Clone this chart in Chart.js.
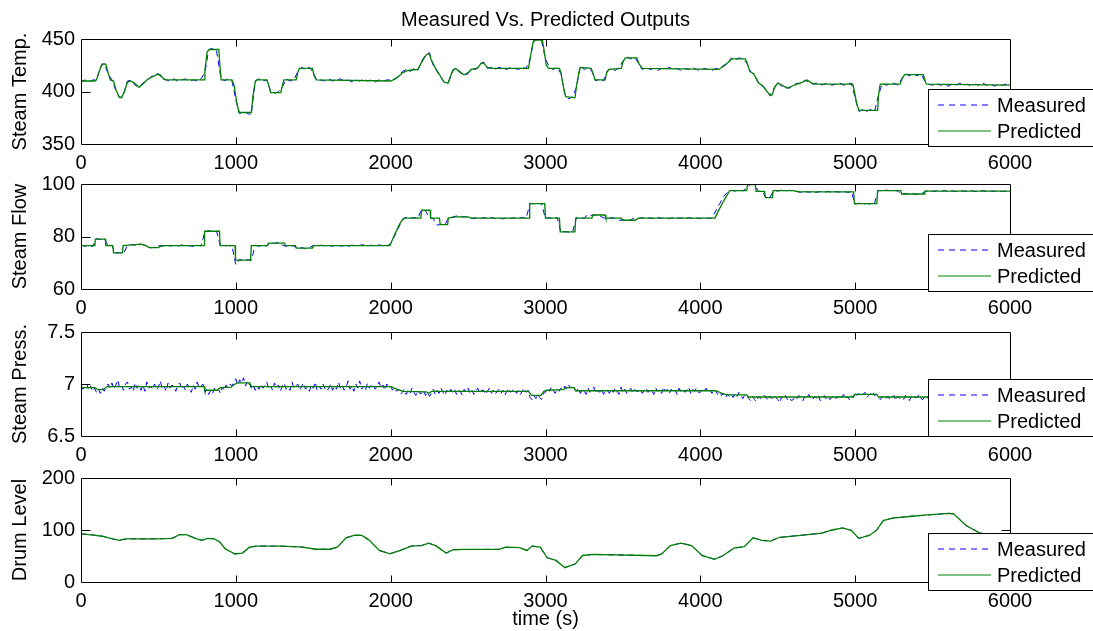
<!DOCTYPE html>
<html>
<head>
<meta charset="utf-8">
<script src="https://cdn.jsdelivr.net/npm/chart.js@4.4.1/dist/chart.umd.min.js"></script>
<style>
html,body{margin:0;padding:0;background:#fff;width:1093px;height:631px;overflow:hidden;}
canvas{position:absolute;left:0;}
</style>
</head>
<body>
<canvas id="c1" width="1093" height="174" style="top:0px"></canvas>
<canvas id="c2" width="1093" height="155" style="top:164px"></canvas>
<canvas id="c3" width="1093" height="154" style="top:312px"></canvas>
<canvas id="c4" width="1093" height="173" style="top:458px"></canvas>
<script>
// ---------------- DATA ----------------
const chartTitle = 'Measured Vs. Predicted Outputs';
const seriesNames = ['Measured', 'Predicted'];
const xTickValues = [0, 1000, 2000, 3000, 4000, 5000, 6000];

// Steam Temp.
const tempTicks = [350, 400, 450];
const tempTime = [0,90,100,115,135,160,175,190,210,225,245,262,280,300,320,345,375,400,425,460,490,510,535,550,795,800,815,830,890,897,905,975,990,1005,1020,1100,1110,1125,1135,1200,1215,1225,1290,1300,1310,1390,1400,1410,1495,1505,1520,2000,2030,2080,2110,2175,2200,2230,2250,2262,2290,2320,2345,2370,2385,2405,2420,2450,2475,2500,2520,2560,2585,2600,2625,2650,2890,2905,2920,2935,2980,2990,3005,3020,3090,3100,3115,3130,3190,3200,3215,3225,3295,3310,3320,3385,3395,3410,3490,3500,3515,3590,3605,3625,4120,4150,4190,4200,4290,4300,4320,4345,4375,4400,4430,4455,4465,4480,4500,4530,4560,4590,4625,4660,4690,4720,4740,4985,4995,5010,5025,5145,5150,5160,5165,5290,5305,5320,5440,5450,5460,6000];
const tempPredicted = [410,410,411,418,426,426,418,411,410,402,395,394,400,409,410,408,404,407,411,414,416,416,412,411,411,420,438,440,440,425,411,411,405,390,380,380,395,409,411,411,405,399,399,405,411,411,418,422,422,415,411,410,412,418,420,421,428,435,436,430,422,415,409,408,414,421,422,418,416,418,421,422,427,427,423,422,422,435,447,449,449,440,425,422,422,418,405,395,394,405,418,423,422,416,411,411,418,421,422,428,432,432,426,422,421,424,429,431,431,428,419,417,408,406,400,396,397,404,408,406,403,405,407,409,411,408,407,407,400,388,382,382,395,406,407,407,413,416,416,411,407,406];
const tempMeasuredStep = 25; // seconds between listed measured samples
const tempMeasured = [
 409,411,409,411,411,423,427,417,
 411,401,394,397,410,411,406,404,
 408,410,414,416,417,412,411,410,
 412,410,411,412,410,411,410,412,
 418,440,441,439,416,410,412,410,
 392,379,381,379,378,410,412,410,
 411,400,398,400,404,412,410,411,
 419,423,421,423,418,410,411,410,
 412,410,411,412,410,411,409,411,
 410,412,410,411,409,411,410,411,
 411,412,414,419,421,419,422,420,
 429,435,437,425,419,413,408,409,
 420,422,419,415,417,422,421,426,
 428,422,423,421,423,422,421,423,
 422,421,423,422,431,449,450,448,
 431,423,421,423,417,397,393,395,
 404,424,421,423,419,410,412,410,
 420,422,420,423,429,433,431,433,
 427,421,423,421,422,420,422,421,
 423,421,422,420,422,421,423,421,
 420,422,421,420,422,422,425,426,
 432,430,432,431,427,419,415,409,
 405,402,396,403,409,405,405,403,
 406,408,407,411,409,407,408,406,
 407,408,406,407,408,406,407,408,
 394,381,383,381,383,381,396,408,
 406,407,408,406,412,417,415,417,
 415,417,410,407,406,408,406,407,
 405,407,406,408,406,407,405,407,
 406,408,406,407,405,407,406,407,
 406];

// Steam Flow
const flowTicks = [60, 80, 100];
const flowTime = [0,90,92,158,160,205,210,268,272,330,385,420,440,500,520,795,798,895,898,995,998,1095,1100,1205,1210,1315,1320,1385,1390,1495,1500,1995,2020,2060,2085,2195,2200,2255,2258,2315,2320,2368,2372,2420,2500,2520,2895,2898,2995,3000,3090,3095,3190,3195,3300,3305,3385,3390,3490,3495,3580,3600,4095,4110,4150,4190,4300,4305,4355,4360,4415,4420,4465,4470,4600,4640,4990,4995,5140,5145,5295,5300,5445,5450,6000];
const flowPredicted = [76.5,76.5,79,79,76.5,76.5,73.8,73.8,76.5,76.8,77.1,76.5,75.8,75.8,76.5,76.5,82,82,76.5,76.5,71,71,76.5,76.5,77.5,77.5,76.5,76.5,75.6,75.6,76.5,76.5,80,85,87,87,90,90,87,87,84.5,84.5,87,87.5,87.5,87,87,92.5,92.5,87,87,81.8,81.8,87,87,88.2,88.2,87,87,86.2,86.2,87,87,89,93.5,97.5,97.5,99.8,99.8,97.2,97.2,94.8,94.8,97.5,97.5,97,97,92.5,92.5,97.5,97.5,96.2,96.2,97.3,97.3];
const flowMeasuredStep = 25;
const flowMeasured = [
 76.8,76.3,76.6,76.2,79.2,78.8,79.3,76.4,
 76.7,73.6,73.9,73.5,76.6,76.9,76.7,77.2,
 76.9,76.2,75.7,75.9,76.6,76.3,76.7,76.4,
 76.6,76.3,76.8,76.4,76.5,76.2,76.7,76.4,
 81.8,82.3,81.7,82.1,76.7,76.3,76.6,76.4,
 69.2,71.3,70.8,71.2,70.9,76.7,76.3,76.6,
 76.4,77.7,77.3,77.8,76.7,76.3,76.6,76.4,
 75.4,75.8,75.3,75.7,76.6,76.3,76.7,76.4,
 76.6,76.3,76.8,76.4,76.5,76.2,76.7,76.4,
 76.6,76.9,76.4,76.7,76.3,76.8,76.5,76.3,
 77.3,80.2,83.2,86.5,87.3,86.8,87.2,86.9,
 90.3,89.8,87.2,86.8,84.3,84.7,84.4,87.2,
 87.4,87.8,87.3,87.6,87.2,86.8,87.1,86.8,
 87.2,86.9,87.3,86.8,87.1,86.7,87.2,86.9,
 87.1,86.8,87.3,86.9,92.7,92.3,92.6,92.4,
 86.8,87.2,86.9,87.3,81.4,81.9,81.6,81.8,
 87.2,86.8,87.1,88.4,88.0,88.3,87.9,87.1,
 86.8,87.2,86.9,86.1,86.4,86.0,86.3,87.1,
 86.8,87.2,86.9,87.1,86.8,87.3,86.9,87.1,
 86.8,87.2,86.9,87.1,86.7,87.2,86.9,87.1,
 86.8,87.2,86.9,87.0,89.8,92.5,95.3,96.8,
 97.6,97.3,97.7,97.4,98.5,99.9,99.8,97.2,
 97.3,94.6,95.0,97.6,97.3,97.7,97.4,97.6,
 97.3,97.1,96.8,97.2,96.9,97.1,96.8,97.2,
 96.9,97.2,96.8,97.1,96.9,97.2,96.8,97.1,
 92.3,92.7,92.2,92.6,92.3,92.7,97.6,97.3,
 97.7,97.4,97.6,97.3,96.0,96.4,96.1,96.3,
 96.0,96.3,97.1,97.5,97.2,97.4,97.1,97.5,
 97.2,97.4,97.1,97.5,97.3,97.2,97.5,97.1,
 97.3,97.5,97.1,97.4,97.2,97.5,97.1,97.3,
 97.2];

// Steam Press.
const pressTicks = [6.5, 7, 7.5];
const pressTime = [0,90,110,140,170,260,795,800,880,900,970,985,1010,1090,1100,2000,2040,2080,2230,2245,2265,2890,2910,2970,2990,3010,3120,3130,3185,3195,4100,4140,4170,4300,4310,4990,4995,5140,5150,6000];
const pressPredicted = [6.965,6.965,6.945,6.945,6.975,6.975,6.975,6.94,6.94,6.965,6.97,6.99,7.01,7.01,6.975,6.975,6.95,6.93,6.925,6.91,6.93,6.93,6.89,6.89,6.93,6.94,6.945,6.965,6.965,6.935,6.935,6.91,6.895,6.895,6.875,6.875,6.9,6.9,6.875,6.875];
const pressMeasuredStep = 12.5;
const pressMeasured = [
 6.99,6.95,6.97,7.00,6.94,6.98,6.93,6.96,6.92,6.95,6.91,6.96,6.93,6.97,7.00,6.96,
 7.01,6.95,6.99,7.04,6.96,6.98,6.94,7.00,7.02,6.95,6.97,6.93,7.01,6.96,6.99,6.94,
 6.99,6.93,7.02,6.96,6.98,6.95,7.00,6.94,6.97,7.03,6.95,6.98,6.93,7.01,6.96,6.99,
 6.97,6.93,6.99,7.01,6.95,6.98,6.94,7.00,6.96,6.92,6.99,6.95,7.02,6.96,6.98,7.00,
 6.92,6.95,6.90,6.94,6.91,6.96,6.93,6.95,6.91,6.97,6.94,6.99,6.96,7.00,6.98,7.02,
 7.05,6.99,7.04,7.01,7.06,6.98,7.03,7.00,6.96,6.99,6.94,6.98,6.95,7.00,6.96,6.99,
 7.02,6.95,6.98,6.94,7.01,6.96,6.99,6.93,6.98,7.01,6.95,6.97,6.94,7.02,6.96,6.98,
 7.00,6.94,6.98,7.01,6.95,6.97,6.93,6.99,6.96,7.02,6.94,6.98,6.95,7.00,6.96,6.93,
 6.96,7.00,6.94,6.98,6.95,7.02,6.96,6.99,6.94,6.97,7.03,6.95,6.98,6.93,7.00,6.96,
 7.03,6.95,6.98,6.94,7.01,6.96,6.99,7.00,6.95,6.98,7.02,6.96,6.99,6.94,7.00,6.97,
 6.98,6.94,6.96,6.93,6.95,6.90,6.92,6.95,6.90,6.94,6.91,6.96,6.92,6.89,6.94,6.91,
 6.91,6.94,6.89,6.92,6.88,6.91,6.95,6.90,6.94,6.91,6.96,6.92,6.89,6.94,6.91,6.95,
 6.92,6.95,6.90,6.94,6.93,6.89,6.95,6.92,6.96,6.91,6.94,6.90,6.93,6.96,6.91,6.94,
 6.94,6.90,6.93,6.96,6.91,6.94,6.90,6.93,6.95,6.91,6.94,6.89,6.93,6.96,6.92,6.94,
 6.95,6.91,6.94,6.90,6.93,6.96,6.92,6.94,6.87,6.85,6.89,6.86,6.90,6.87,6.85,6.91,
 6.92,6.96,6.93,6.97,6.94,6.91,6.95,6.93,6.96,6.94,6.98,6.95,6.99,6.96,6.98,6.95,
 6.93,6.96,6.91,6.95,6.93,6.90,6.96,6.92,6.94,6.97,6.91,6.94,6.92,6.95,6.90,6.94,
 6.94,6.91,6.95,6.92,6.96,6.93,6.90,6.97,6.92,6.95,6.91,6.94,6.96,6.92,6.95,6.93,
 6.93,6.95,6.91,6.94,6.96,6.92,6.95,6.93,6.90,6.96,6.93,6.95,6.91,6.97,6.93,6.95,
 6.91,6.95,6.92,6.94,6.90,6.96,6.93,6.95,6.92,6.94,6.97,6.91,6.95,6.93,6.96,6.92,
 6.92,6.95,6.93,6.96,6.92,6.94,6.91,6.95,6.93,6.90,6.92,6.89,6.91,6.87,6.90,6.88,
 6.90,6.87,6.91,6.88,6.92,6.89,6.86,6.90,6.89,6.86,6.84,6.88,6.85,6.83,6.88,6.86,
 6.86,6.89,6.87,6.84,6.88,6.86,6.89,6.87,6.85,6.82,6.88,6.86,6.89,6.85,6.87,6.84,
 6.85,6.88,6.86,6.89,6.87,6.84,6.88,6.86,6.90,6.87,6.85,6.88,6.86,6.89,6.84,6.87,
 6.89,6.86,6.88,6.85,6.87,6.89,6.86,6.88,6.85,6.87,6.90,6.86,6.88,6.85,6.89,6.87,
 6.92,6.89,6.91,6.88,6.90,6.92,6.87,6.89,6.91,6.93,6.89,6.90,6.87,6.85,6.88,6.86,
 6.86,6.88,6.85,6.87,6.89,6.84,6.88,6.86,6.87,6.85,6.89,6.86,6.84,6.88,6.86,6.87,
 6.87,6.90,6.86,6.85,6.88,6.86,6.89,6.85,6.87,6.84,6.88,6.86,6.89,6.85,6.87,6.86,
 6.87,6.85,6.88,6.86,6.84,6.88,6.86,6.87,6.85,6.88,6.86,6.89,6.85,6.87,6.84,6.88,
 6.85,6.88,6.86,6.84,6.87,6.85,6.88,6.86,6.87,6.84,6.88,6.86,6.85,6.87,6.86,6.88,
 6.86];

// Drum Level
const drumTicks = [0, 100, 200];
const drumTime = [0,68,136,204,249,272,295,400,500,590,635,680,748,782,816,862,896,930,993,1043,1088,1134,1300,1429,1519,1610,1655,1712,1769,1814,1859,1927,1995,2063,2132,2200,2245,2290,2358,2404,2472,2698,2744,2834,2880,2914,2966,3011,3068,3125,3193,3239,3307,3716,3750,3807,3875,3943,4011,4091,4148,4216,4284,4341,4398,4455,4511,4648,4784,4852,4920,4977,5023,5091,5136,5182,5239,5352,5466,5602,5636,5716,5800,6000];
const drumPredicted = [92.7,90.7,88,83,80,82,83,83,83,84,91,91,83,80,84,83,77,64,54,55.6,67,69,69,67,63,63,67,85,90,89.5,81,60.7,54.3,61,69,70,74.8,70,55.6,62,62.6,62.6,67,66,60.7,69,67,46.6,41.5,27.5,35,51,53,50.5,54,70,74.8,70,51,43.5,51,65,68,85,80,78.6,86,89.5,94,100,104,99,84,89.5,99,118,122.7,126,129,132,131,108.6,95,80];
const drumMeasured = [92.9,90.5,88.3,82.8,80.2,81.7,83.3,82.8,83.2,84.2,90.8,91.2,82.7,80.3,83.8,83.2,76.8,64.3,53.8,55.9,66.7,69.3,68.8,67.2,62.8,63.2,66.8,85.3,90.2,89.3,81.2,60.5,54.6,60.8,69.2,70.3,74.6,70.2,55.3,62.3,62.4,62.8,66.8,66.3,60.5,69.3,66.8,46.9,41.2,27.8,34.7,51.3,52.8,50.7,53.7,70.3,74.6,70.3,50.8,43.8,50.7,65.3,67.8,85.3,79.8,78.9,85.7,89.8,93.8,100.3,103.7,99.3,83.7,89.8,98.7,118.3,122.4,126.3,128.7,132.3,130.8,108.9,94.7,80.3];

// ---------------- RENDERING ----------------
const FONT = "'Liberation Sans', Arial, Helvetica, sans-serif";
Chart.defaults.font.family = FONT;
Chart.defaults.font.size = 20;
Chart.defaults.color = '#000';

const BLUE = '#0000ff';
const GREEN = '#008000';

function pairs(xs, ys) {
  const n = Math.min(xs.length, ys.length);
  const out = [];
  for (let i = 0; i < n; i++) out.push({x: xs[i], y: ys[i]});
  return out;
}
function gridPairs(ys, step) {
  return ys.map((v, i) => ({x: i * step, y: v}));
}

function decorPlugin(cfg) {
  return {
    id: 'decor' + cfg.id,
    afterDatasetsDraw(chart) {
      const ctx = chart.ctx, ca = chart.chartArea;
      const xs = chart.scales.x, ys = chart.scales.y;
      const L = Math.round(ca.left) + 0.5, R = Math.round(ca.right) + 0.5;
      const T = Math.round(ca.top) + 0.5, B = Math.round(ca.bottom) + 0.5;
      ctx.save();
      ctx.strokeStyle = '#000';
      ctx.lineWidth = 1;
      ctx.setLineDash([]);
      ctx.beginPath();
      ctx.rect(L, T, R - L, B - T);
      xTickValues.forEach((v, i) => {
        if (i === 0 || i === xTickValues.length - 1) return;
        const px = Math.round(xs.getPixelForValue(v)) + 0.5;
        ctx.moveTo(px, T); ctx.lineTo(px, T + 7);
        ctx.moveTo(px, B); ctx.lineTo(px, B - 7);
      });
      cfg.yTicks.forEach((v, i) => {
        if (i === 0 || i === cfg.yTicks.length - 1) return;
        const py = Math.round(ys.getPixelForValue(v)) + 0.5;
        ctx.moveTo(L, py); ctx.lineTo(L + 9, py);
        ctx.moveTo(R, py); ctx.lineTo(R - 9, py);
      });
      ctx.stroke();
      ctx.restore();
    },
    afterDraw(chart) {
      const ctx = chart.ctx, ca = chart.chartArea;
      ctx.save();
      const lb = Math.round(ca.bottom) + cfg.legendDrop;
      const lt = lb - 57;
      const lx = 928;
      ctx.fillStyle = '#fff';
      ctx.fillRect(lx, lt, chart.width - lx + 2, 57);
      ctx.strokeStyle = '#000';
      ctx.lineWidth = 1;
      ctx.setLineDash([]);
      ctx.strokeRect(lx + 0.5, lt + 0.5, chart.width, 57);
      const y1 = lt + 16, y2 = lt + 42;
      ctx.strokeStyle = BLUE;
      ctx.setLineDash([6, 5]);
      ctx.beginPath(); ctx.moveTo(938, y1); ctx.lineTo(991, y1); ctx.stroke();
      ctx.strokeStyle = GREEN;
      ctx.setLineDash([]);
      ctx.beginPath(); ctx.moveTo(938, y2); ctx.lineTo(991, y2); ctx.stroke();
      ctx.fillStyle = '#000';
      ctx.font = '20px ' + FONT;
      ctx.textAlign = 'left';
      ctx.textBaseline = 'middle';
      ctx.fillText(seriesNames[0], 997, y1 + 1);
      ctx.fillText(seriesNames[1], 997, y2 + 1);
      if (cfg.showTitle) {
        ctx.textAlign = 'center';
        ctx.textBaseline = 'alphabetic';
        ctx.fillText(chartTitle, (ca.left + ca.right) / 2, 26);
      }
      ctx.restore();
    }
  };
}

function makeChart(cfg) {
  const measuredData = cfg.measuredTime ? pairs(cfg.measuredTime, cfg.measured)
                                        : gridPairs(cfg.measured, cfg.measuredStep);
  const predictedData = pairs(cfg.time, cfg.predicted);
  return new Chart(document.getElementById(cfg.id), {
    type: 'line',
    data: {
      datasets: [
        {label: seriesNames[0], data: measuredData, borderColor: BLUE, borderWidth: 1,
         borderDash: [6, 4], pointRadius: 0, tension: 0, order: 2, fill: false},
        {label: seriesNames[1], data: predictedData, borderColor: GREEN, borderWidth: 1.3,
         pointRadius: 0, tension: 0, order: 1, fill: false}
      ]
    },
    options: {
      responsive: false,
      animation: false,
      devicePixelRatio: 1,
      events: [],
      layout: {padding: {left: 0, right: 83, top: cfg.padTop, bottom: 0}},
      plugins: {legend: {display: false}, tooltip: {enabled: false}, title: {display: false}},
      scales: {
        x: {
          type: 'linear', min: 0, max: 6000,
          afterBuildTicks: s => { s.ticks = xTickValues.map(v => ({value: v})); },
          afterFit: s => { s.height = cfg.xAxisH; },
          ticks: {autoSkip: false, maxRotation: 0, minRotation: 0, padding: 7,
                  callback: v => String(v)},
          grid: {display: false, drawTicks: false},
          border: {display: false},
          title: {display: !!cfg.xTitle, text: cfg.xTitle || '', padding: 0}
        },
        y: {
          type: 'linear', min: cfg.yTicks[0], max: cfg.yTicks[cfg.yTicks.length - 1],
          afterBuildTicks: s => { s.ticks = cfg.yTicks.map(v => ({value: v})); },
          afterFit: s => { s.width = 81; },
          ticks: {padding: 6, callback: v => String(v)},
          grid: {display: false, drawTicks: false},
          border: {display: false},
          title: {display: true, text: cfg.yTitle, padding: {top: 8, bottom: 0}}
        }
      }
    },
    plugins: [decorPlugin(cfg)]
  });
}

makeChart({id: 'c1', padTop: 39, xAxisH: 30, yTitle: 'Steam Temp.', yTicks: tempTicks,
  time: tempTime, predicted: tempPredicted, measured: tempMeasured, measuredStep: tempMeasuredStep,
  legendDrop: 2, showTitle: true});
makeChart({id: 'c2', padTop: 20, xAxisH: 30, yTitle: 'Steam Flow', yTicks: flowTicks,
  time: flowTime, predicted: flowPredicted, measured: flowMeasured, measuredStep: flowMeasuredStep,
  legendDrop: 2});
makeChart({id: 'c3', padTop: 20, xAxisH: 30, yTitle: 'Steam Press.', yTicks: pressTicks,
  time: pressTime, predicted: pressPredicted, measured: pressMeasured, measuredStep: pressMeasuredStep,
  legendDrop: 0});
makeChart({id: 'c4', padTop: 20, xAxisH: 49, yTitle: 'Drum Level', yTicks: drumTicks,
  time: drumTime, predicted: drumPredicted, measured: drumMeasured, measuredTime: drumTime,
  legendDrop: 8, xTitle: 'time (s)'});
</script>
</body>
</html>
